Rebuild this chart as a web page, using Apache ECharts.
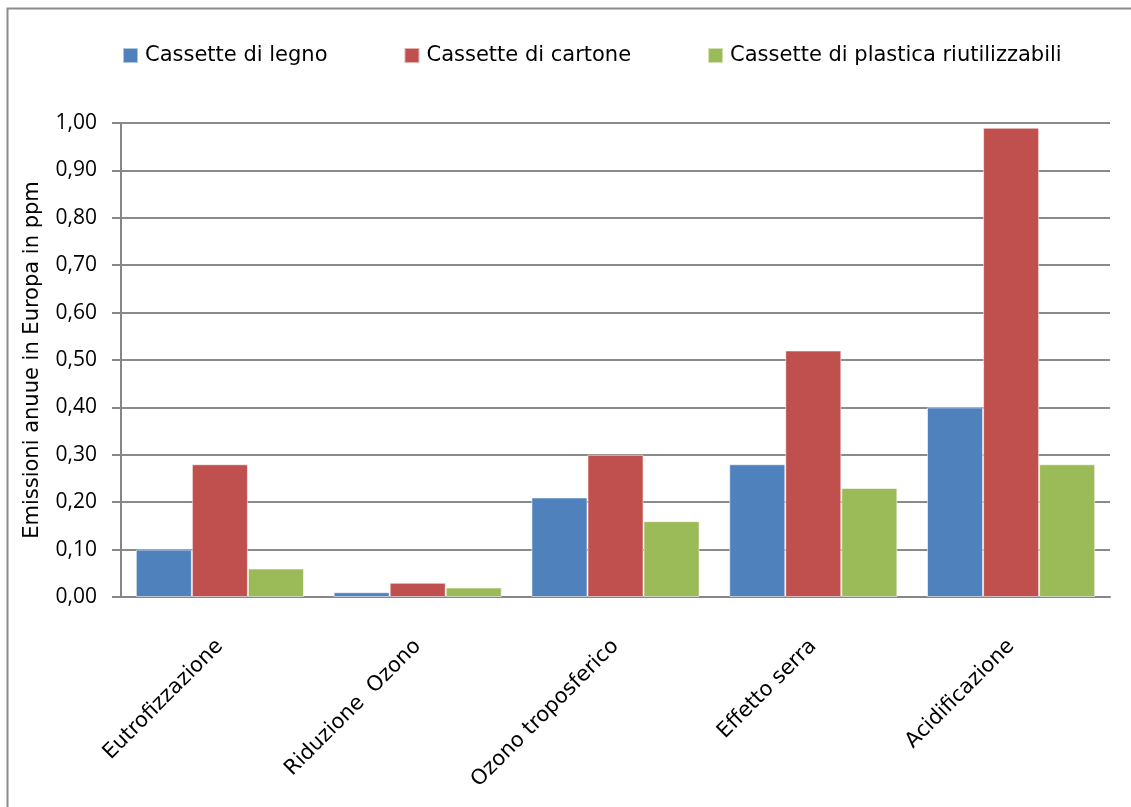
<!DOCTYPE html>
<html>
<head>
<meta charset="utf-8">
<script src="https://cdn.jsdelivr.net/npm/echarts@6/dist/echarts.min.js"></script>
<style>
  html, body { margin: 0; padding: 0; background: #fff; }
  #chart { width: 1131px; height: 807px; }
</style>
</head>
<body>
<div id="chart"></div>
<script>
// Categorie d'impatto ambientale
const categories = ['Eutrofizzazione', 'Riduzione  Ozono', 'Ozono troposferico', 'Effetto serra', 'Acidificazione'];
// Emissioni annue per tipo di cassetta (ppm)
const legno = [0.10, 0.01, 0.21, 0.28, 0.40];
const cartone = [0.28, 0.03, 0.30, 0.52, 0.99];
const plastica = [0.06, 0.02, 0.16, 0.23, 0.28];
const seriesNames = ['Cassette di legno', 'Cassette di cartone', 'Cassette di plastica riutilizzabili'];
const colors = ['#4F81BD', '#C0504D', '#9BBB59'];

const FONT = 'Open Sans';
const WIDE = 'DejaVu Sans';
const chart = echarts.init(document.getElementById('chart'));

function barSeries(name, data, color) {
  return {
    name: name,
    type: 'bar',
    data: data,
    barGap: '0%',
    barCategoryGap: '15%',
    itemStyle: { color: color, borderColor: 'rgba(255,255,255,0.55)', borderWidth: 1 }
  };
}

chart.setOption({
  animation: false,
  textStyle: { fontFamily: FONT },
  graphic: [{
    type: 'rect',
    shape: { x: 7.5, y: 8.5, width: 1140, height: 820 },
    style: { fill: 'none', stroke: '#8c8c8c', lineWidth: 2 },
    silent: true
  }],
  legend: {
    top: 45,
    left: 122,
    padding: 0,
    itemWidth: 15,
    itemHeight: 15,
    itemGap: 76,
    icon: 'rect',
    textStyle: { fontFamily: WIDE, fontSize: 21, color: '#000', padding: [0, 0, 0, 2] },
    data: seriesNames
  },
  grid: { left: 121, right: 21, top: 123, bottom: 210, containLabel: false },
  xAxis: {
    type: 'category',
    data: categories,
    axisLine: { lineStyle: { color: '#868686', width: 2 } },
    axisTick: { show: false },
    axisLabel: {
      rotate: 45,
      margin: 46,
      fontFamily: WIDE,
      fontSize: 21,
      color: '#000',
      interval: 0
    }
  },
  yAxis: {
    type: 'value',
    min: 0,
    max: 1,
    interval: 0.1,
    name: 'Emissioni anuue in Europa in ppm',
    nameLocation: 'middle',
    nameGap: 78,
    nameTextStyle: { fontFamily: WIDE, fontSize: 21, color: '#000' },
    axisLine: { show: true, lineStyle: { color: '#868686', width: 2 } },
    axisTick: { show: true, length: 9, lineStyle: { color: '#868686', width: 2 } },
    splitLine: { lineStyle: { color: '#8a8a8a', width: 2 } },
    axisLabel: {
      margin: 24,
      fontFamily: FONT,
      fontSize: 21,
      color: '#000',
      formatter: v => v.toFixed(2).replace('.', ',')
    }
  },
  series: [
    barSeries(seriesNames[0], legno, colors[0]),
    barSeries(seriesNames[1], cartone, colors[1]),
    barSeries(seriesNames[2], plastica, colors[2])
  ]
});
</script>
</body>
</html>
